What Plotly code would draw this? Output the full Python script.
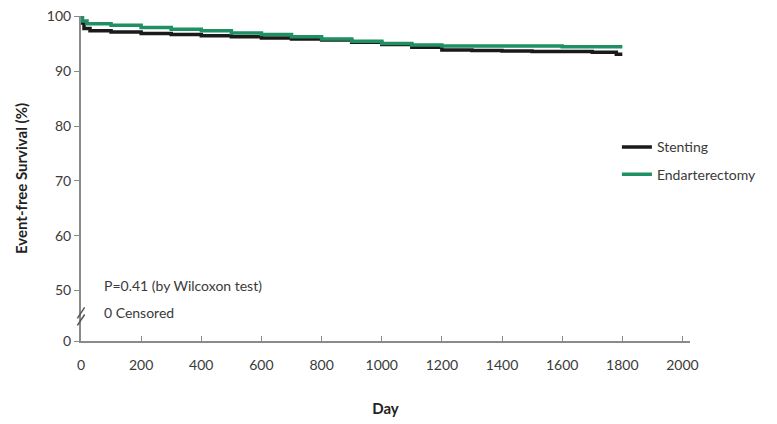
import plotly.graph_objects as go

# Kaplan-Meier step data
stent_day = [0, 3, 10, 30, 100, 200, 300, 400, 500, 600, 700, 800, 900, 1000, 1100, 1200, 1300, 1400, 1500, 1600, 1700, 1780, 1800]
stent_surv = [100, 98.8, 97.8, 97.4, 97.2, 96.9, 96.7, 96.5, 96.3, 96.1, 95.9, 95.7, 95.3, 94.9, 94.4, 93.9, 93.8, 93.7, 93.6, 93.6, 93.5, 93.1, 93.1]
endo_day = [0, 5, 20, 100, 200, 300, 400, 500, 600, 700, 800, 900, 1000, 1100, 1200, 1400, 1600, 1800]
endo_surv = [100, 99.2, 98.7, 98.4, 98.0, 97.7, 97.4, 97.0, 96.7, 96.3, 95.9, 95.5, 95.1, 94.8, 94.6, 94.6, 94.5, 94.5]

x_ticks = [0, 200, 400, 600, 800, 1000, 1200, 1400, 1600, 1800, 2000]
y_tickvals = [40.76, 50, 60, 70, 80, 90, 100]
y_ticktext = ["0", "50", "60", "70", "80", "90", "100"]

FONT = "Lato, Open Sans, sans-serif"
GREEN = "#1e9064"
AXIS = "#8a8a8a"
TXT = "#3a3a3a"

fig = go.Figure()
fig.add_trace(go.Scatter(x=stent_day, y=stent_surv, mode="lines", name="Stenting", legendgroup="s",
                         line=dict(color="#1a1a1a", width=3.5, shape="hv")))
fig.add_trace(go.Scatter(x=endo_day, y=endo_surv, mode="lines", name="Endarterectomy", legendgroup="e",
                         line=dict(color=GREEN, width=3.5, shape="hv")))

fig.update_layout(
    width=777, height=424,
    margin=dict(l=73, r=95, t=8, b=91, autoexpand=False),
    paper_bgcolor="white", plot_bgcolor="white",
    font=dict(family=FONT, size=14, color=TXT),
    showlegend=True,
    legend=dict(x=0.88, y=0.645, xanchor="left", yanchor="top", bgcolor="rgba(0,0,0,0)",
                font=dict(size=14, color=TXT), itemwidth=30, tracegroupgap=6),
    xaxis=dict(range=[0, 2025], tickvals=x_ticks, ticks="inside", ticklen=5, tickcolor=AXIS,
               showline=True, linecolor=AXIS, linewidth=2, showgrid=False, zeroline=False,
               ticklabelstandoff=10, automargin=False,
               title=dict(text="<b>Day</b>", font=dict(size=15, color="#222"), standoff=32)),
    yaxis=dict(range=[40.76, 100.1], tickvals=y_tickvals, ticktext=y_ticktext, ticks="outside",
               ticklen=5, tickcolor=AXIS, showline=True, linecolor=AXIS, linewidth=2,
               showgrid=False, zeroline=False, automargin=False, ticklabeloverflow="allow",
               title=dict(text="<b>Event-free Survival (%)</b>", font=dict(size=15, color="#222"), standoff=16)),
)

fig.add_annotation(x=0.034, y=50.9, xref="paper", yref="y", text="P=0.41 (by Wilcoxon test)",
                   showarrow=False, xanchor="left", yanchor="middle", font=dict(size=14, color=TXT))
fig.add_annotation(x=0.034, y=45.9, xref="paper", yref="y", text="0 Censored",
                   showarrow=False, xanchor="left", yanchor="middle", font=dict(size=14, color=TXT))

# axis break marks
for dy in (0, 1.3):
    fig.add_shape(type="line", xref="paper", yref="y", x0=-0.006, x1=0.006,
                  y0=43.6 + dy, y1=45.6 + dy, line=dict(color="#555", width=1.5))

fig.write_html("out.html")
